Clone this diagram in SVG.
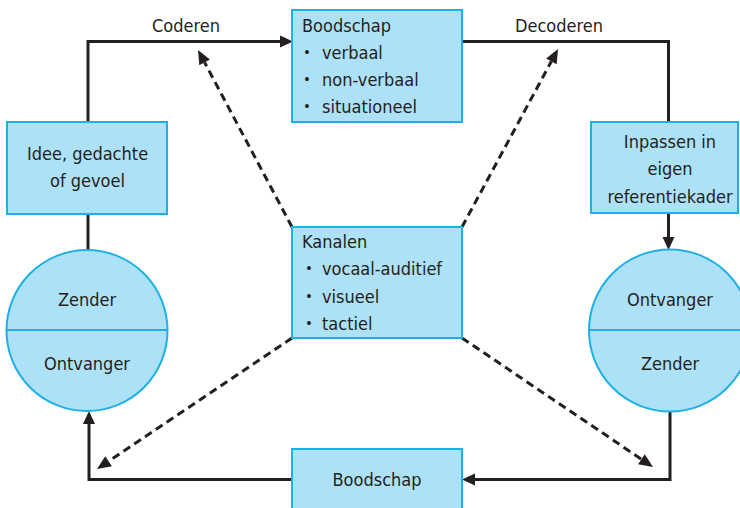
<svg xmlns="http://www.w3.org/2000/svg" width="740" height="508" viewBox="0 0 740 508">
  <defs>
    <style>
      .box { fill: #ade1f7; stroke: #1fb0e6; stroke-width: 2; }
      .div { stroke: #1fb0e6; stroke-width: 2; fill: none; }
      .lbl { font-family: "DejaVu Sans Condensed", "DejaVu Sans", sans-serif; font-stretch: condensed; font-size: 18px; fill: #231f20; }
      .mid { text-anchor: middle; }
      .dot { font-family: "Liberation Sans", Arial, sans-serif; font-size: 14px; fill: #231f20; text-anchor: middle; }
      .flow { fill: none; stroke: #231f20; stroke-width: 3; }
      .dash { fill: none; stroke: #231f20; stroke-width: 3; stroke-dasharray: 8 5; }
    </style>
    <marker id="head" markerUnits="userSpaceOnUse" markerWidth="14" markerHeight="12" refX="0" refY="6" orient="auto" overflow="visible">
      <path d="M0,0 L13,6 L0,12 z" fill="#231f20"/>
    </marker>
    <marker id="headDash" markerUnits="userSpaceOnUse" markerWidth="14" markerHeight="12" refX="0" refY="6" orient="auto" overflow="visible">
      <path d="M0,0 L14,6 L0,12 z" fill="#231f20"/>
    </marker>
  </defs>

  <rect width="740" height="508" fill="#ffffff"/>

  <!-- connectors -->
  <g id="connectors">
    <path class="flow" d="M88,122 V41.5 H280" marker-end="url(#head)"/>
    <path class="flow" d="M462,41.5 H668.5 V122"/>
    <path class="flow" d="M668.5,213 V237" marker-end="url(#head)"/>
    <path class="flow" d="M88,214 V250"/>
    <path class="flow" d="M670,411 V479.5 H475" marker-end="url(#head)"/>
    <path class="flow" d="M292,479.5 H89 V424" marker-end="url(#head)"/>
    <path class="dash" d="M292,227 L204.6,62.4" marker-end="url(#headDash)"/>
    <path class="dash" d="M462,227 L551.4,61.3" marker-end="url(#headDash)"/>
    <path class="dash" d="M292,338 L108.6,461.2" marker-end="url(#headDash)"/>
    <path class="dash" d="M462,338 L641.4,459.2" marker-end="url(#headDash)"/>
  </g>

  <!-- Idee, gedachte of gevoel -->
  <g id="idee">
    <rect class="box" x="7" y="122" width="160" height="92"/>
    <text class="lbl mid" x="87.5" y="160">Idee, gedachte</text>
    <text class="lbl mid" x="87.5" y="186.5">of gevoel</text>
  </g>

  <!-- Boodschap (top) -->
  <g id="boodschap-top">
    <rect class="box" x="292" y="10" width="170" height="112"/>
    <text class="lbl" x="302" y="32">Boodschap</text>
    <text class="dot" x="307" y="57">•</text>
    <text class="lbl" x="322" y="59">verbaal</text>
    <text class="dot" x="307" y="84">•</text>
    <text class="lbl" x="322" y="86">non-verbaal</text>
    <text class="dot" x="307" y="111">•</text>
    <text class="lbl" x="322" y="113">situationeel</text>
  </g>

  <!-- Inpassen in eigen referentiekader -->
  <g id="inpassen">
    <rect class="box" x="591" y="122" width="147" height="91"/>
    <text class="lbl mid" x="670" y="148">Inpassen in</text>
    <text class="lbl mid" x="670" y="175">eigen</text>
    <text class="lbl mid" x="670" y="203">referentiekader</text>
  </g>

  <!-- Kanalen -->
  <g id="kanalen">
    <rect class="box" x="292" y="227" width="170" height="111"/>
    <text class="lbl" x="302" y="248">Kanalen</text>
    <text class="dot" x="309" y="273">•</text>
    <text class="lbl" x="322" y="275">vocaal-auditief</text>
    <text class="dot" x="309" y="300.5">•</text>
    <text class="lbl" x="322" y="302.5">visueel</text>
    <text class="dot" x="309" y="328">•</text>
    <text class="lbl" x="322" y="330">tactiel</text>
  </g>

  <!-- Zender / Ontvanger (left) -->
  <g id="persoon-links">
    <circle class="box" cx="87" cy="330.5" r="80.5"/>
    <line class="div" x1="6.5" y1="330" x2="167.5" y2="330"/>
    <text class="lbl mid" x="87" y="306">Zender</text>
    <text class="lbl mid" x="87" y="370">Ontvanger</text>
  </g>

  <!-- Ontvanger / Zender (right) -->
  <g id="persoon-rechts">
    <circle class="box" cx="670" cy="330.5" r="81"/>
    <line class="div" x1="589" y1="330" x2="751" y2="330"/>
    <text class="lbl mid" x="670" y="306">Ontvanger</text>
    <text class="lbl mid" x="670" y="370">Zender</text>
  </g>

  <!-- Boodschap (bottom) -->
  <g id="boodschap-onder">
    <rect class="box" x="292" y="449" width="170" height="70"/>
    <text class="lbl mid" x="377" y="486">Boodschap</text>
  </g>

  <!-- edge labels -->
  <g id="labels">
    <text class="lbl mid" x="186" y="32">Coderen</text>
    <text class="lbl mid" x="559" y="32">Decoderen</text>
  </g>
</svg>
